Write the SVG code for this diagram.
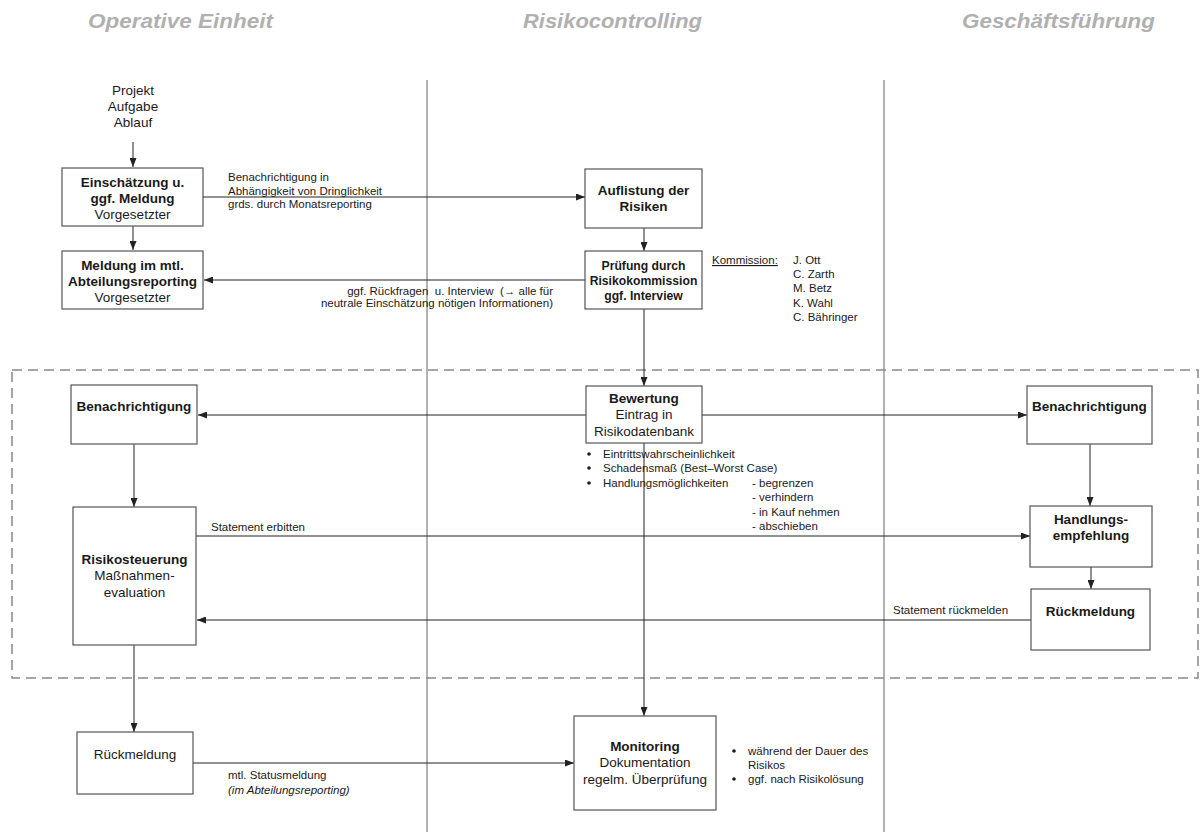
<svg xmlns="http://www.w3.org/2000/svg" width="1201" height="832" viewBox="0 0 1201 832">
<style>
text{font-family:"Liberation Sans",Arial,sans-serif;fill:#1a1a1a}
.hdr{font-size:20px;font-weight:bold;font-style:italic;fill:#b0b0b0}
.box{fill:#fff;stroke:#555;stroke-width:1.2}
.b{font-size:13.5px;font-weight:bold}
.r{font-size:13.5px}
.bs{font-size:12.2px;font-weight:bold}
.lbl{font-size:11.5px}
.it{font-style:italic}
.c{text-anchor:middle}
.lane{stroke:#999;stroke-width:1.5}
.con{stroke:#222;stroke-width:1;fill:none}
.arr{marker-end:url(#ah)}
</style>
<defs>
<marker id="ah" markerWidth="9" markerHeight="7" refX="9" refY="3.5" orient="auto" markerUnits="userSpaceOnUse">
<path d="M0,0 L9,3.5 L0,7 z" fill="#222"/>
</marker>
</defs>
<rect width="1201" height="832" fill="#fff"/>

<g id="headers">
<text class="hdr" x="88" y="28" textLength="185" lengthAdjust="spacingAndGlyphs">Operative Einheit</text>
<text class="hdr" x="523" y="28" textLength="179" lengthAdjust="spacingAndGlyphs">Risikocontrolling</text>
<text class="hdr" x="962" y="28" textLength="193" lengthAdjust="spacingAndGlyphs">Geschäftsführung</text>
</g>

<g id="lanes">
<line class="lane" x1="427" y1="80" x2="427" y2="832"/>
<line class="lane" x1="884" y1="80" x2="884" y2="832"/>
</g>

<g id="zone">
<rect x="12" y="370" width="1186" height="308" fill="none" stroke="#888" stroke-width="1.5" stroke-dasharray="10 6"/>
</g>

<g id="connectors">
<line class="con arr" x1="133" y1="142" x2="133" y2="167"/>
<line class="con arr" x1="133" y1="226" x2="133" y2="250"/>
<line class="con arr" x1="203" y1="197" x2="585" y2="197"/>
<line class="con arr" x1="644" y1="228" x2="644" y2="251"/>
<line class="con arr" x1="585" y1="280" x2="204" y2="280"/>
<line class="con arr" x1="644" y1="309" x2="644" y2="386"/>
<line class="con arr" x1="586" y1="415" x2="198" y2="415"/>
<line class="con arr" x1="702" y1="415" x2="1027" y2="415"/>
<line class="con arr" x1="134" y1="444" x2="134" y2="507"/>
<line class="con arr" x1="1090" y1="444" x2="1090" y2="506"/>
<line class="con arr" x1="196" y1="536" x2="1030" y2="536"/>
<line class="con arr" x1="1091" y1="567" x2="1091" y2="589"/>
<line class="con arr" x1="1031" y1="620" x2="197" y2="620"/>
<line class="con arr" x1="644" y1="443" x2="644" y2="716"/>
<line class="con arr" x1="134" y1="645" x2="134" y2="732"/>
<line class="con arr" x1="193" y1="763" x2="574" y2="763"/>
</g>

<g id="labels">
<text class="lbl" x="228" y="181">Benachrichtigung in</text>
<text class="lbl" x="228" y="194.5">Abhängigkeit von Dringlichkeit</text>
<text class="lbl" x="228" y="208">grds. durch Monatsreporting</text>
<text class="lbl" x="553" y="295" text-anchor="end" xml:space="preserve">ggf. Rückfragen  u. Interview  (→ alle für</text>
<text class="lbl" x="553" y="307" text-anchor="end">neutrale Einschätzung nötigen Informationen)</text>
<text class="lbl" x="211" y="531">Statement erbitten</text>
<text class="lbl" x="893" y="614">Statement rückmelden</text>
<text class="lbl" x="228" y="779">mtl. Statusmeldung</text>
<text class="lbl it" x="228" y="794">(im Abteilungsreporting)</text>
</g>

<g id="start">
<text class="r c" x="133" y="95">Projekt</text>
<text class="r c" x="133" y="111">Aufgabe</text>
<text class="r c" x="133" y="127">Ablauf</text>
</g>

<g id="n-einschaetzung">
<rect class="box" x="62" y="168" width="141" height="58"/>
<text class="b c" x="132.5" y="187">Einschätzung u.</text>
<text class="b c" x="132.5" y="203">ggf. Meldung</text>
<text class="r c" x="132.5" y="219">Vorgesetzter</text>
</g>

<g id="n-meldung">
<rect class="box" x="62" y="251" width="141" height="58"/>
<text class="b c" x="132.5" y="270">Meldung im mtl.</text>
<text class="b c" x="132.5" y="286">Abteilungsreporting</text>
<text class="r c" x="132.5" y="302">Vorgesetzter</text>
</g>

<g id="n-auflistung">
<rect class="box" x="585" y="169" width="117" height="59"/>
<text class="b c" x="643.5" y="195">Auflistung der</text>
<text class="b c" x="643.5" y="211">Risiken</text>
</g>

<g id="n-pruefung">
<rect class="box" x="585" y="251" width="117" height="58"/>
<text class="bs c" x="643.5" y="270">Prüfung durch</text>
<text class="bs c" x="643.5" y="285">Risikokommission</text>
<text class="bs c" x="643.5" y="300">ggf. Interview</text>
</g>

<g id="kommission">
<text class="lbl" x="712" y="264" text-decoration="underline">Kommission:</text>
<text class="lbl" x="793" y="264">J. Ott</text>
<text class="lbl" x="793" y="278">C. Zarth</text>
<text class="lbl" x="793" y="292">M. Betz</text>
<text class="lbl" x="793" y="307">K. Wahl</text>
<text class="lbl" x="793" y="321">C. Bähringer</text>
</g>

<g id="n-bewertung">
<rect class="box" x="586" y="386" width="116" height="57"/>
<text class="b c" x="644" y="403">Bewertung</text>
<text class="r c" x="644" y="419">Eintrag in</text>
<text class="r c" x="644" y="436">Risikodatenbank</text>
</g>

<g id="bewertung-notes">
<circle cx="589" cy="454" r="1.8" fill="#1a1a1a"/>
<circle cx="589" cy="468" r="1.8" fill="#1a1a1a"/>
<circle cx="589" cy="483" r="1.8" fill="#1a1a1a"/>
<text class="lbl" x="603" y="458">Eintrittswahrscheinlichkeit</text>
<text class="lbl" x="603" y="472">Schadensmaß (Best–Worst Case)</text>
<text class="lbl" x="603" y="487">Handlungsmöglichkeiten</text>
<text class="lbl" x="752" y="487">- begrenzen</text>
<text class="lbl" x="752" y="501">- verhindern</text>
<text class="lbl" x="752" y="516">- in Kauf nehmen</text>
<text class="lbl" x="752" y="530">- abschieben</text>
</g>

<g id="n-benach-left">
<rect class="box" x="71" y="385" width="126" height="59"/>
<text class="b c" x="134" y="411">Benachrichtigung</text>
</g>

<g id="n-benach-right">
<rect class="box" x="1027" y="386" width="125" height="58"/>
<text class="b c" x="1089.5" y="411">Benachrichtigung</text>
</g>

<g id="n-risikosteuerung">
<rect class="box" x="73" y="507" width="123" height="138"/>
<text class="b c" x="134.5" y="564">Risikosteuerung</text>
<text class="r c" x="134.5" y="580">Maßnahmen-</text>
<text class="r c" x="134.5" y="597">evaluation</text>
</g>

<g id="n-handlungsempfehlung">
<rect class="box" x="1030" y="506" width="122" height="61"/>
<text class="b c" x="1091" y="524">Handlungs-</text>
<text class="b c" x="1091" y="540">empfehlung</text>
</g>

<g id="n-rueckmeldung-right">
<rect class="box" x="1031" y="589" width="119" height="61"/>
<text class="b c" x="1090.5" y="616">Rückmeldung</text>
</g>

<g id="n-rueckmeldung-left">
<rect class="box" x="77" y="732" width="116" height="62"/>
<text class="r c" x="135" y="759">Rückmeldung</text>
</g>

<g id="n-monitoring">
<rect class="box" x="574" y="716" width="142" height="94"/>
<text class="b c" x="645" y="751">Monitoring</text>
<text class="r c" x="645" y="767">Dokumentation</text>
<text class="r c" x="645" y="784">regelm. Überprüfung</text>
</g>

<g id="monitoring-notes">
<circle cx="734" cy="751" r="1.8" fill="#1a1a1a"/>
<circle cx="734" cy="779" r="1.8" fill="#1a1a1a"/>
<text class="lbl" x="748" y="755">während der Dauer des</text>
<text class="lbl" x="748" y="769">Risikos</text>
<text class="lbl" x="748" y="783">ggf. nach Risikolösung</text>
</g>
</svg>
